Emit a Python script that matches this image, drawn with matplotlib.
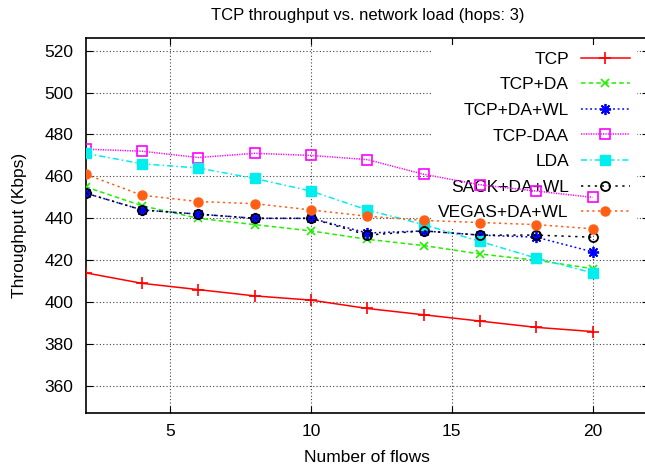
import matplotlib.pyplot as plt

plt.rcParams['font.family'] = ['Liberation Sans', 'DejaVu Sans']

flows = [2, 4, 6, 8, 10, 12, 14, 16, 18, 20]

tcp = [414, 409, 406, 403, 401, 397, 394, 391, 388, 386]
tcp_da = [455, 446, 440, 437, 434, 430, 427, 423, 420, 416]
tcp_da_wl = [452, 444, 442, 440, 440, 433, 434, 432, 431, 424]
tcp_daa = [473, 472, 469, 471, 470, 468, 461, 456, 453, 450]
lda = [471, 466, 464, 459, 453, 444, 437, 429, 421, 414]
sack_da_wl = [452, 444, 442, 440, 440, 432, 434, 432, 432, 431]
vegas_da_wl = [461, 451, 448, 447, 444, 441, 439, 438, 437, 435]

series = [
    ('TCP', tcp, dict(color='#ff0000', ls='-', marker='+', ms=8, mew=1.2)),
    ('TCP+DA', tcp_da, dict(color='#22ee00', ls=(0, (3, 2)), marker='x', ms=6, mew=1.2)),
    ('TCP+DA+WL', tcp_da_wl, dict(color='#0000ff', ls=(0, (1.2, 1.8)), marker=(8, 2, 0), ms=8, mew=1.3)),
    ('TCP-DAA', tcp_daa, dict(color='#ff00ff', ls=(0, (0.8, 0.8)), marker='s', ms=6.5, mfc='none', mew=1.2)),
    ('LDA', lda, dict(color='#00eeee', ls=(0, (4, 2, 1, 2)), marker='s', ms=6.5)),
    ('SACK+DA+WL', sack_da_wl, dict(color='#000000', ls=(0, (1.5, 3)), marker='o', ms=6.5, mfc='none', mew=1.3)),
    ('VEGAS+DA+WL', vegas_da_wl, dict(color='#ff5f15', ls=(0, (1.5, 2.2)), marker='o', ms=6.5)),
]

fig = plt.figure(figsize=(6.45, 4.67), dpi=100)
ax = fig.add_axes([85.7 / 645, 1 - 412.7 / 467, (649 - 85.7) / 645, (412.7 - 38) / 467])

for label, vals, style in series:
    ax.plot(flows, vals, label=label, lw=1.1, zorder=3, **style)

ax.set_xlim(2, 22)
ax.set_ylim(347.3, 526)
ax.set_xticks([5, 10, 15, 20])
ax.set_yticks(range(360, 521, 20))
ax.tick_params(direction='in', length=5, width=0.8, top=True, right=True,
               labelsize=12.5, colors='black')
ax.tick_params(axis='x', pad=8)
ax.tick_params(axis='y', pad=9)
ax.set_axisbelow(True)
ax.grid(True, color='#444444', ls=(0, (1, 2)), lw=0.8)
for sp in ax.spines.values():
    sp.set_linewidth(1.2)

ax.set_title('TCP throughput vs. network load (hops: 3)', fontsize=12, pad=13)
ax.set_xlabel('Number of flows', fontsize=12.5, labelpad=8)
ax.set_ylabel('Throughput (Kbps)', fontsize=12.5, labelpad=12.5)

leg = ax.legend(loc='upper right', bbox_to_anchor=(0.978, 0.982), markerfirst=False,
                frameon=True, fontsize=12.5, handlelength=2.8, handletextpad=0.7,
                labelspacing=0.6, borderpad=0.4, borderaxespad=0, fancybox=False)
leg.get_frame().set_edgecolor('none')
leg.get_frame().set_facecolor('white')
leg.get_frame().set_alpha(1)
leg.set_zorder(1.5)

fig.savefig('out.png', dpi=100)
